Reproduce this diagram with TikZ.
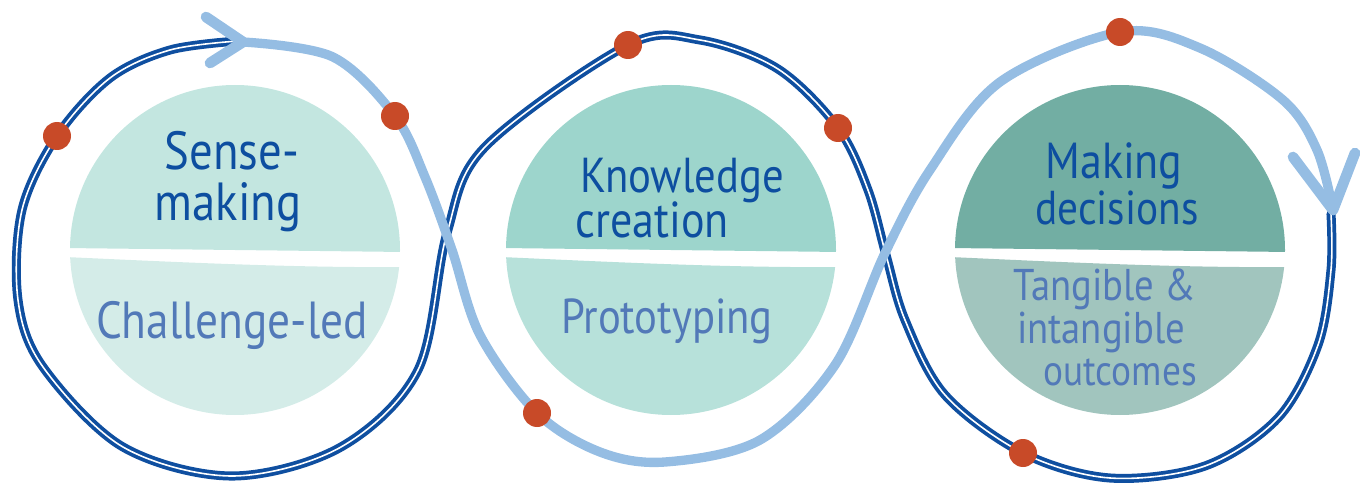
\documentclass[tikz,border=0pt]{standalone}
\usepackage{fontspec}
\setmainfont{PT Sans}
\definecolor{dkblue}{HTML}{0F4FA0}
\definecolor{ltblue}{HTML}{95BDE3}
\definecolor{dotred}{HTML}{C84A28}
\definecolor{txtdark}{HTML}{0D4EA0}
\definecolor{txtmid}{HTML}{5279B8}
\definecolor{fillAa}{HTML}{C3E6E0}
\definecolor{fillAb}{HTML}{D4ECE8}
\definecolor{fillBa}{HTML}{9DD5CC}
\definecolor{fillBb}{HTML}{B7E1DA}
\definecolor{fillCa}{HTML}{72AEA3}
\definecolor{fillCb}{HTML}{A1C5BE}
\newcommand{\talltext}[1]{\scalebox{1}[1.15]{#1}}
\tikzset{
  darkloop/.style={draw=dkblue, line width=2.8pt, double=white, double distance=1.2pt, line cap=round},
  lightloop/.style={draw=ltblue, line width=7pt, line cap=round},
  arrowarm/.style={draw=ltblue, line width=8pt, line cap=round, line join=round},
  reddot/.style={circle, fill=dotred, minimum size=21pt, inner sep=0pt},
  headline/.style={anchor=base, text=txtdark, inner sep=0pt},
  subline/.style={anchor=base, text=txtmid, inner sep=0pt},
}
\begin{document}
\begin{tikzpicture}[x=0.75pt, y=-0.75pt]
\path[use as bounding box] (0,0) rectangle (1365,485);

% half-disc fills
\foreach \cx/\ta/\tb in {235/fillAa/fillAb, 671/fillBa/fillBb, 1120/fillCa/fillCb}{
  \begin{scope}
    \clip (\cx,250) circle[radius=165];
    \fill[\ta] (\cx-170,60) -- (\cx+170,60) -- (\cx+170,252) -- (\cx-170,248) -- cycle;
    \fill[\tb] (\cx-170,257) .. controls (\cx-60,262) and (\cx+60,268) .. (\cx+170,267) -- (\cx+170,440) -- (\cx-170,440) -- cycle;
  \end{scope}
}

% key points
\coordinate (p1) at (57,136);
\coordinate (p2) at (395,116);
\coordinate (p3) at (628,45);
\coordinate (p4) at (838,128);
\coordinate (p5) at (537,413);
\coordinate (p6) at (1120,32);
\coordinate (p7) at (1023,453);
\coordinate (tipA) at (243,42);
\coordinate (tipB) at (1333,210);

% dark blue loop
\draw[darkloop] plot[smooth, tension=0.55] coordinates {
  (238,41) (170,50) (110,78) (p1) (22,210) (18,300) (43,367) (123,447) (232,476)
  (341,447) (418,370) (447,233) (485,147) (p3) (700,40)
  (778,69) (p4) (868,190) (886,255) (905,320) (945,395) (p7) (1110,478)
  (1205,466) (1278,418) (1318,345) (1331,270) (1331,214)};

% light blue loop
\draw[lightloop] plot[smooth, tension=0.55] coordinates {
  (tipA) (333,57) (p2) (425,177) (452,250) (480,335) (p5) (600,452)
  (665,462) (760,440) (835,365) (885,253) (930,170) (1000,82)
  (p6) (1200,48) (1283,100) (1317,150) (tipB)};

% arrow heads
\draw[arrowarm] (206,17) -- (tipA) -- (210,63);
\draw[arrowarm] (1293,157) -- (tipB) -- (1355,153);

% dots
\foreach \p in {p1,p2,p3,p4,p5,p6,p7}{ \node[reddot] (dot\p) at (\p) {}; }

% texts
\node[headline, font=\fontsize{35}{40}\selectfont] (t1a) at (232,170) {\talltext{Sense-}};
\node[headline, font=\fontsize{35}{40}\selectfont] (t1b) at (228,220) {\talltext{making}};
\node[subline, font=\fontsize{34}{40}\selectfont] (t1c) at (232,338) {\talltext{Challenge-led}};

\node[headline, font=\fontsize{32}{40}\selectfont] (t2a) at (682,192) {\talltext{Knowledge}};
\node[headline, font=\fontsize{33}{40}\selectfont] (t2b) at (652,237) {\talltext{creation}};
\node[subline, font=\fontsize{32}{40}\selectfont] (t2c) at (667,333) {\talltext{Prototyping}};

\node[headline, font=\fontsize{33}{40}\selectfont] (t3a) at (1114,178) {\talltext{Making}};
\node[headline, font=\fontsize{31}{40}\selectfont] (t3b) at (1117,224) {\talltext{decisions}};
\node[subline, font=\fontsize{29}{36}\selectfont] (t3c) at (1105,300) {\talltext{Tangible \&}};
\node[subline, font=\fontsize{29}{36}\selectfont] (t3d) at (1101,343) {\talltext{intangible}};
\node[subline, font=\fontsize{28}{36}\selectfont] (t3e) at (1120,385) {\talltext{outcomes}};
\end{tikzpicture}
\end{document}
